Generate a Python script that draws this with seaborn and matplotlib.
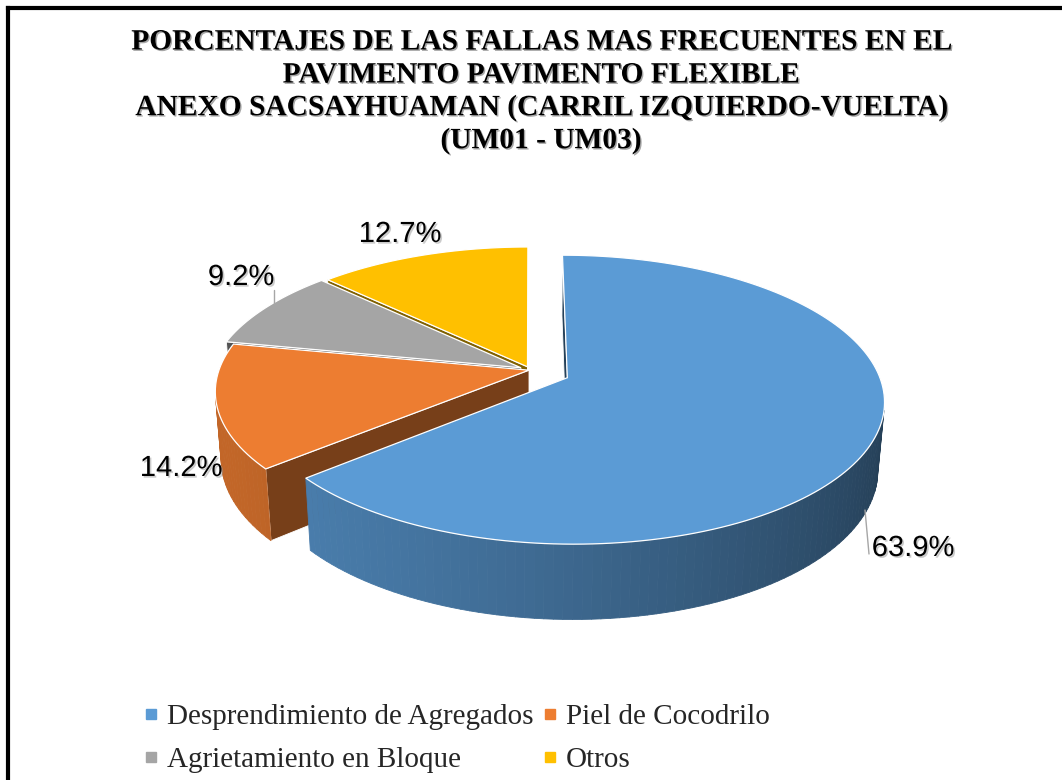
import numpy as np
import matplotlib
matplotlib.use('Agg')
import matplotlib.pyplot as plt
import matplotlib.patheffects as pe
from matplotlib.collections import PolyCollection
from matplotlib.lines import Line2D
import seaborn as sns

# Data
categories = ['Desprendimiento de Agregados', 'Piel de Cocodrilo',
              'Agrietamiento en Bloque', 'Otros']
percentages = [63.9, 14.2, 9.2, 12.7]
title_lines = ['PORCENTAJES DE LAS FALLAS MAS FRECUENTES EN EL',
               'PAVIMENTO PAVIMENTO FLEXIBLE',
               'ANEXO SACSAYHUAMAN (CARRIL IZQUIERDO-VUELTA)',
               '(UM01 - UM03)']

# Styling / layout
colors = sns.color_palette(['#5B9BD5', '#ED7D31', '#A5A5A5', '#FFC000'])
explode = [0.13, 0.005, 0.035, 0.025]
label_pos = [(913, 548), (181, 468), (241, 277), (400, 234)]

sns.set_theme(style='white')
plt.rcParams['font.family'] = ['Liberation Sans', 'DejaVu Sans']

# 3D pie geometry, in pixel units of the figure
cx, cy = 530.5, 370
R = 310
depth = 76
tilt = np.radians(26.6)
dist = 1837
cam = np.array([0.0, -dist * np.cos(tilt), dist * np.sin(tilt)])
light = np.array([-1.0, -0.3]) / np.hypot(1.0, 0.3)


def project(X, Y, Z):
    v = Y * np.sin(tilt) + Z * np.cos(tilt)
    w = -Y * np.cos(tilt) + Z * np.sin(tilt)
    p = dist / (dist - w)
    return np.column_stack([cx + X * p, cy - v * p])


def shade(col, f):
    return tuple(np.clip(np.array(col) * f, 0, 1))


def visible(normal, point):
    return np.dot(normal, cam - point) > 0


fig = plt.figure(figsize=(10.62, 7.8), dpi=100)
ax = fig.add_axes([0, 0, 1, 1])
ax.set_xlim(0, 1062)
ax.set_ylim(780, 0)
ax.axis('off')

# slice angles, clockwise from 12 o'clock
vals = np.array(percentages)
ends = np.cumsum(vals) / vals.sum() * 360
starts = np.concatenate([[0], ends[:-1]])

slices = []
for i in range(len(vals)):
    a0, a1 = starts[i], ends[i]
    mid = np.radians((a0 + a1) / 2)
    ox = explode[i] * R * np.sin(mid)
    oy = explode[i] * R * np.cos(mid)
    slices.append((i, a0, a1, ox, oy, oy + 0.5 * R * np.cos(mid)))

# draw farthest slices first
for i, a0, a1, ox, oy, key in sorted(slices, key=lambda s: -s[5]):
    col = colors[i]
    phis = np.radians(np.linspace(a0, a1, max(int((a1 - a0) / 1.5), 4)))
    rx = ox + R * np.sin(phis)
    ry = oy + R * np.cos(phis)

    # radial walls
    for ang, sign in ((a0, -1), (a1, 1)):
        t = np.radians(ang)
        normal = np.array([sign * np.cos(t), -sign * np.sin(t), 0.0])
        if visible(normal, np.array([ox, oy, 0.0])):
            ex, ey = ox + R * np.sin(t), oy + R * np.cos(t)
            quad = project(np.array([ox, ex, ex, ox]), np.array([oy, ey, ey, oy]),
                           np.array([0, 0, -depth, -depth]))
            f = 0.42 if i == 0 else 0.5
            ax.add_patch(plt.Polygon(quad, closed=True, facecolor=shade(col, f),
                                     edgecolor='white', linewidth=0.6, zorder=2))

    # curved outer wall with a left-lit gradient
    polys, fcs = [], []
    for k in range(len(phis) - 1):
        m = 0.5 * (phis[k] + phis[k + 1])
        n2 = np.array([np.sin(m), np.cos(m)])
        if not visible(np.array([n2[0], n2[1], 0.0]),
                       np.array([ox + R * n2[0], oy + R * n2[1], 0.0])):
            continue
        xs = np.array([rx[k], rx[k + 1], rx[k + 1], rx[k]])
        ys = np.array([ry[k], ry[k + 1], ry[k + 1], ry[k]])
        polys.append(project(xs, ys, np.array([0, 0, -depth, -depth])))
        fcs.append(shade(col, 0.6 + 0.22 * np.dot(n2, light)))
    if polys:
        ax.add_collection(PolyCollection(polys, facecolors=fcs, edgecolors=fcs,
                                         linewidths=0.6, zorder=2))

    # top face
    top = project(np.concatenate([[ox], rx]), np.concatenate([[oy], ry]),
                  np.zeros(len(rx) + 1))
    ax.add_patch(plt.Polygon(top, closed=True, facecolor=col, edgecolor='white',
                             linewidth=0.9, zorder=2))

# data labels
shadow = [pe.SimplePatchShadow(offset=(1.2, -1.2), shadow_rgbFace=(0.6, 0.6, 0.6), alpha=0.5),
          pe.Normal()]
for (x, y), v in zip(label_pos, percentages):
    ax.text(x, y, f'{v:.1f}%', ha='center', va='center', fontsize=21,
            color='black', family=['Liberation Sans', 'DejaVu Sans'],
            path_effects=shadow, zorder=5)

# leader lines
ax.plot([865, 869], [510, 554], color='#a6a6a6', lw=1, zorder=4)
ax.plot([274, 274], [290, 305], color='#a6a6a6', lw=1, zorder=4)

# title
for k, line in enumerate(title_lines):
    ax.text(541, 42 + 33 * k, line, ha='center', va='center', fontsize=21.2,
            fontweight='bold', family=['Liberation Serif', 'DejaVu Serif'],
            color='black', zorder=5,
            path_effects=[pe.SimplePatchShadow(offset=(1, -1), alpha=0.35), pe.Normal()])

# legend, filled row by row like the original (matplotlib fills by column)
handles = [Line2D([], [], marker='s', linestyle='none', markersize=6.5,
                  markerfacecolor=c, markeredgecolor=c) for c in colors]
order = [0, 2, 1, 3]
ax.legend([handles[j] for j in order], [categories[j] for j in order],
          ncol=2, loc='upper left', frameon=False,
          bbox_to_anchor=(144, 704), bbox_transform=ax.transData,
          prop={'family': ['Liberation Serif', 'DejaVu Serif'], 'size': 21},
          handlelength=0.5, handletextpad=0.3, columnspacing=0.3,
          labelspacing=0.55, borderpad=0, borderaxespad=0)

# chart frame (left and top edges)
ax.plot([8, 1062], [8, 8], color='black', lw=3, solid_capstyle='projecting', clip_on=False)
ax.plot([8, 8], [8, 780], color='black', lw=3, solid_capstyle='projecting', clip_on=False)

fig.savefig('out.png', dpi=100)
